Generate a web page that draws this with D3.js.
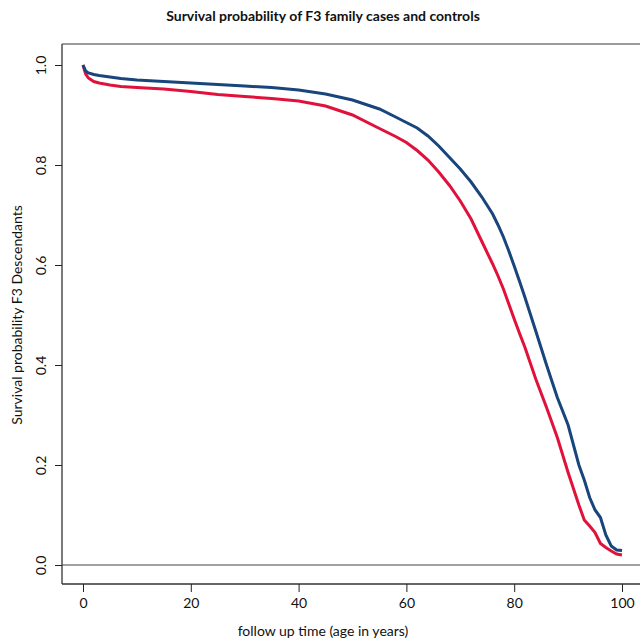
<!DOCTYPE html>
<html><head><meta charset="utf-8">
<script src="https://cdn.jsdelivr.net/npm/d3@7"></script>
<style>body{margin:0;background:#fff}svg{display:block}text{font-family:Lato,"Open Sans",sans-serif;fill:#111}</style>
</head><body>
<script>
const ages = [0,0.5,1,2,3,5,7,10,15,20,25,30,35,40,45,50,55,58,60,62,64,66,68,70,72,74,76,77,78,79,80,81,82,84,86,88,90,92,93,94,95,96,97,98,99,100];
const controls = [1.0,0.988,0.984,0.981,0.979,0.976,0.973,0.970,0.967,0.964,0.961,0.958,0.955,0.950,0.942,0.930,0.912,0.896,0.885,0.874,0.858,0.838,0.815,0.792,0.766,0.736,0.702,0.680,0.656,0.628,0.598,0.567,0.535,0.468,0.400,0.335,0.280,0.200,0.170,0.135,0.110,0.095,0.060,0.038,0.030,0.029];
const cases = [1.0,0.982,0.974,0.967,0.964,0.960,0.957,0.955,0.952,0.947,0.941,0.937,0.933,0.928,0.918,0.900,0.873,0.857,0.845,0.829,0.810,0.786,0.759,0.728,0.692,0.647,0.602,0.578,0.552,0.522,0.492,0.463,0.435,0.372,0.315,0.255,0.185,0.120,0.090,0.078,0.065,0.043,0.035,0.028,0.022,0.020];
const xTicks = [0,20,40,60,80,100];
const yTicks = [0,0.2,0.4,0.6,0.8,1.0];
const title = "Survival probability of F3 family cases and controls";
const xTitle = "follow up time (age in years)";
const yTitle = "Survival probability F3 Descendants";

const W=640,H=640;
const svg=d3.select("body").append("svg").attr("width",W).attr("height",H);
const x=d3.scaleLinear().domain([0,100]).range([83,622]);
const y=d3.scaleLinear().domain([0,1]).range([565,65]);
const pLeft=62, pTop=44, pBottom=584;

svg.append("text").attr("x",323).attr("y",21).attr("text-anchor","middle")
  .attr("font-weight","bold").attr("font-size",14).text(title);

// frame
svg.append("line").attr("x1",pLeft).attr("x2",W).attr("y1",pTop).attr("y2",pTop).attr("stroke","#7a7a7a").attr("stroke-width",1.3);
svg.append("line").attr("x1",pLeft).attr("x2",pLeft).attr("y1",pTop).attr("y2",pBottom).attr("stroke","#333").attr("stroke-width",1.3);
svg.append("line").attr("x1",pLeft).attr("x2",W).attr("y1",pBottom).attr("y2",pBottom).attr("stroke","#333").attr("stroke-width",1.3);

// axes
const xa=svg.append("g").attr("transform",`translate(0,${pBottom})`)
  .call(d3.axisBottom(x).tickValues(xTicks).tickSize(8).tickPadding(6).tickFormat(d3.format("d")));
xa.select(".domain").remove();
xa.selectAll("line").attr("stroke","#222");
xa.selectAll("text").attr("font-size",14).style("font-family","Lato,'Open Sans',sans-serif").attr("fill","#111");

const ya=svg.append("g").attr("transform",`translate(${pLeft},0)`)
  .call(d3.axisLeft(y).tickValues(yTicks).tickSize(7).tickFormat(d3.format(".1f")));
ya.select(".domain").remove();
ya.selectAll("line").attr("stroke","#222");
ya.selectAll("text").attr("font-size",14).style("font-family","Lato,'Open Sans',sans-serif").attr("fill","#111")
  .attr("text-anchor","middle").attr("x",0).attr("dy",0)
  .attr("transform",d=>`translate(-16,0) rotate(-90)`);

// zero line
svg.append("line").attr("x1",pLeft).attr("x2",W).attr("y1",y(0)).attr("y2",y(0)).attr("stroke","#444").attr("stroke-width",1.2);

svg.append("text").attr("x",323).attr("y",636).attr("text-anchor","middle").attr("font-size",14).text(xTitle);
svg.append("text").attr("transform",`translate(22,${y(0.5)}) rotate(-90)`).attr("text-anchor","middle").attr("font-size",14).text(yTitle);

const line=d3.line().x((d,i)=>x(ages[i])).y(d=>y(d)).curve(d3.curveLinear);
svg.append("path").datum(cases).attr("d",line).attr("fill","none").attr("stroke","#e0123c").attr("stroke-width",3);
svg.append("path").datum(controls).attr("d",line).attr("fill","none").attr("stroke","#17457c").attr("stroke-width",3);
</script>
</body></html>
